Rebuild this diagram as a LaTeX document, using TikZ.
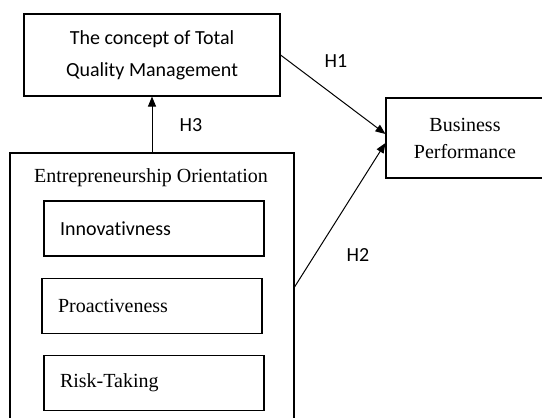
\documentclass[tikz,border=0pt]{standalone}
\usepackage{fontspec}
\setmainfont{Liberation Serif}
\newfontfamily\calibrisub[Ligatures=NoCommon]{Carlito}
\usetikzlibrary{arrows.meta,positioning}

\begin{document}
\begin{tikzpicture}[
  x=1pt, y=-1pt,
  node distance=21pt and 20pt,
  box/.style={rectangle, draw=black, line width=1.1pt, inner sep=0pt},
  serifbox/.style={box, font=\fontsize{20}{27}\selectfont, align=center},
  sansbox/.style={box, font=\calibrisub\fontsize{20}{32}\selectfont, align=center},
  dimbox/.style={box, minimum height=55pt, text width=188pt, inner xsep=16pt, align=left, font=\fontsize{20}{24}\selectfont},
  hyp/.style={font=\calibrisub\fontsize{20}{24}\selectfont, inner sep=0pt},
  arrow/.style={-{Triangle[length=10pt,width=8pt]}, line width=1pt}
]
\useasboundingbox (0,0) rectangle (542,418);

\node[sansbox, minimum width=256pt, minimum height=82pt] (tqm) at (152,55) {The concept of Total\\Quality Management};
\node[serifbox, minimum width=158pt, minimum height=80pt] (perf) at (465,138) {Business\\Performance};

% entrepreneurship orientation and its dimensions
\node[box, minimum width=284pt, minimum height=268pt] (eo) at (152,287) {};
\node[font=\fontsize{20}{24}\selectfont, inner sep=0pt, anchor=base] (eotitle) at (151,182.5) {Entrepreneurship Orientation};
\node[dimbox] (innov) at (154,228.5) {\calibrisub Innovativness};
\node[dimbox, below=of innov, xshift=-2pt] (proact) {Proactiveness};
\node[dimbox, below=of proact, xshift=2pt] (risk) {Risk-Taking};

\node[hyp] (h1) at (336,61.5) {H1};
\node[hyp] (h2) at (358,255) {H2};
\node[hyp] (h3) at (191,125) {H3};

\draw[arrow] (eo.north) -- (tqm.south);
\draw[arrow] (tqm.east) -- ([yshift=4pt]perf.west);
\draw[arrow] (eo.east) -- ([yshift=-5pt]perf.west);
\end{tikzpicture}
\end{document}
